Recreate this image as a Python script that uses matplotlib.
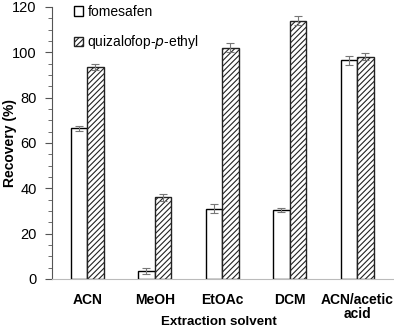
import matplotlib
matplotlib.use("Agg")
import matplotlib.pyplot as plt
import numpy as np

categories = ["ACN", "MeOH", "EtOAc", "DCM", "ACN/acetic\nacid"]
fomesafen = [66.5, 3.5, 31.0, 30.5, 96.5]
fomesafen_err = [1.0, 1.5, 2.0, 1.0, 2.0]
qpe = [93.5, 36.0, 102.0, 114.0, 98.0]
qpe_err = [1.3, 1.5, 2.0, 2.0, 1.5]

plt.rcParams['font.family'] = ['Liberation Sans', 'DejaVu Sans']
plt.rcParams['hatch.linewidth'] = 0.8
plt.rcParams['hatch.color'] = '#333333'

fig = plt.figure(figsize=(3.94, 3.28), dpi=100)
ax = fig.add_axes([52/394, 1 - 279/328, (393-52)/394, (279-7)/328])

x = np.arange(len(categories))
w = 0.245
ax.bar(x - w/2, fomesafen, w, color='white', edgecolor='black', linewidth=1.0,
       label='fomesafen', yerr=fomesafen_err, ecolor='#777777',
       error_kw=dict(capsize=3, elinewidth=0.8, capthick=0.8))
ax.bar(x + w/2, qpe, w, color='white', edgecolor='#222222', linewidth=1.0,
       hatch='//////', label='quizalofop-$\\it{p}$-ethyl', yerr=qpe_err, ecolor='#777777',
       error_kw=dict(capsize=3, elinewidth=0.8, capthick=0.8))

ax.set_xlim(-0.52, 4.53)
ax.set_ylim(0, 120)
ax.set_yticks(np.arange(0, 121, 20))
ax.set_yticks(np.arange(0, 121, 5), minor=True)
ax.set_xticks(x)
ax.set_xticklabels(categories, fontweight='bold', fontsize=10, linespacing=1.0)
ax.tick_params(axis='x', length=0, pad=10)
ax.tick_params(axis='y', which='major', length=5, color='#555555', labelsize=10.5, pad=6)
ax.tick_params(axis='y', which='minor', length=3, color='#555555')

for s in ['top', 'right']:
    ax.spines[s].set_visible(False)
ax.spines['left'].set_color('#555555')
ax.spines['bottom'].set_color('#bbbbbb')

ax.set_ylabel('Recovery (%)', fontweight='bold', fontsize=10)
ax.yaxis.set_label_coords((10 - 52) / 341, 0.5)
ax.set_xlabel('Extraction solvent', fontweight='bold', fontsize=9.6)
ax.xaxis.set_label_coords((219 - 52) / 341, (279 - 322) / 272)
ax.xaxis.label.set_va('center')
ax.yaxis.label.set_va('center')

ax.legend(loc='upper left', bbox_to_anchor=(0.065, 1.008), frameon=False, fontsize=10,
          borderpad=0, borderaxespad=0,
          handlelength=0.65, handleheight=0.65, handletextpad=0.3, labelspacing=1.05)

fig.savefig('out.png', dpi=100)
